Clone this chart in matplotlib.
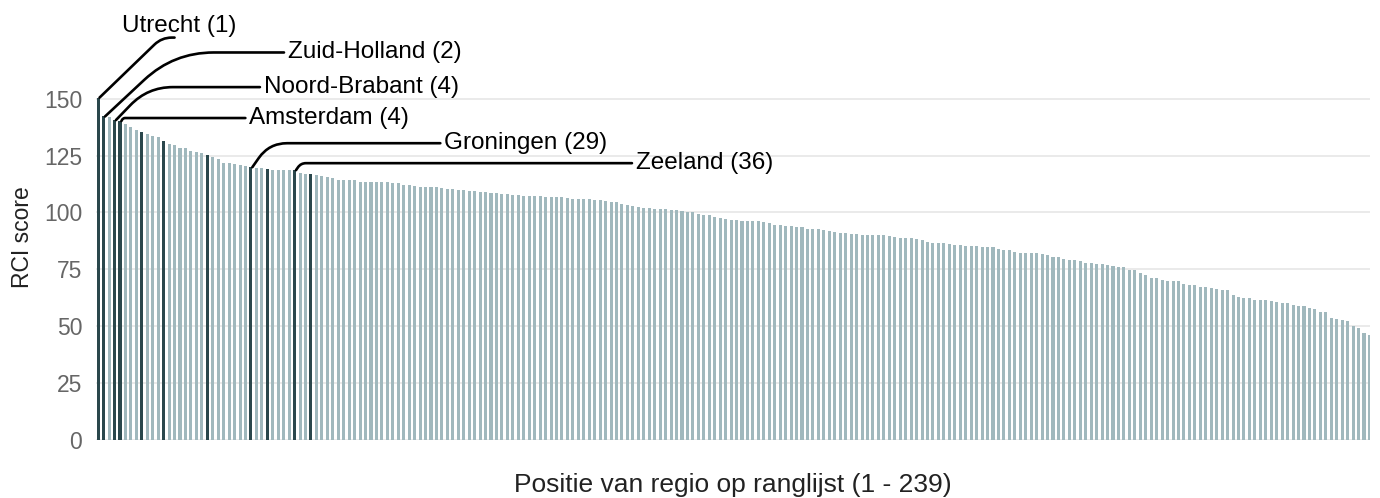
import matplotlib
matplotlib.use("Agg")
import matplotlib.pyplot as plt

# RCI score per region, sorted from rank 1 downwards
scores = [
    150.5, 142.2, 141.8, 140.6, 140.2, 138.8, 137.7, 136.3, 135.3, 134.4,
    133.7, 133.1, 131.4, 129.9, 129.6, 128.4, 128.3, 127.1, 126.7, 126.0,
    125.4, 124.6, 123.5, 121.8, 121.6, 121.3, 121.0, 120.4, 119.9, 119.5,
    119.4, 119.0, 118.7, 118.6, 118.6, 118.6, 118.6, 117.2, 116.9, 116.9,
    116.4, 116.0, 115.6, 115.0, 114.2, 114.2, 114.2, 114.2, 113.5, 113.4,
    113.4, 113.4, 113.4, 113.2, 112.8, 112.8, 112.0, 112.0, 111.6, 111.2,
    111.2, 111.2, 111.2, 110.6, 110.3, 110.3, 109.8, 109.8, 109.4, 109.4,
    109.0, 109.0, 108.5, 108.5, 108.1, 108.1, 107.6, 107.6, 107.2, 107.2,
    107.2, 107.2, 106.8, 106.8, 106.8, 106.8, 106.3, 105.9, 105.9, 105.9,
    105.9, 105.4, 105.4, 105.0, 104.6, 104.6, 103.7, 103.3, 102.8, 102.4,
    101.9, 101.9, 101.5, 101.5, 101.5, 101.1, 101.1, 100.6, 100.2, 100.2,
    99.3, 98.9, 98.9, 98.0, 97.5, 97.1, 96.7, 96.7, 96.2, 96.2,
    96.2, 96.2, 95.8, 95.3, 94.5, 94.5, 94.0, 94.0, 93.6, 93.6,
    92.7, 92.7, 92.7, 92.3, 91.8, 91.4, 90.9, 90.9, 90.5, 90.5,
    90.1, 90.1, 90.1, 90.1, 90.1, 89.6, 89.2, 88.8, 88.8, 88.8,
    88.3, 87.9, 87.0, 86.6, 86.6, 86.6, 86.1, 85.7, 85.7, 85.2,
    85.2, 85.2, 84.8, 84.8, 84.8, 83.9, 83.5, 83.5, 82.6, 82.2,
    82.2, 82.2, 82.2, 81.7, 81.3, 80.4, 80.4, 79.5, 79.1, 79.1,
    78.6, 77.8, 77.8, 77.3, 77.3, 76.9, 76.4, 76.0, 76.0, 74.7,
    74.7, 73.4, 72.5, 71.2, 71.2, 70.3, 69.9, 69.9, 69.9, 68.5,
    68.1, 68.1, 67.2, 67.2, 66.8, 66.3, 65.9, 65.9, 63.7, 62.8,
    62.4, 62.4, 61.5, 61.5, 61.5, 61.1, 60.6, 60.2, 60.2, 59.3,
    58.9, 58.9, 58.0, 57.6, 56.2, 56.2, 53.6, 53.2, 52.7, 52.3,
    50.1, 49.2, 47.0, 46.1,
]

# positions (0-based) of the Dutch regions in the ranking
nl_positions = [0, 1, 3, 4, 8, 12, 20, 28, 31, 36, 39]

label_names = ["Utrecht (1)", "Zuid-Holland (2)", "Noord-Brabant (4)",
               "Amsterdam (4)", "Groningen (29)", "Zeeland (36)"]
label_positions = [0, 1, 3, 4, 28, 36]

yticks = [0, 25, 50, 75, 100, 125, 150]

# leader layout: end of line (pixels from bar top), slope of first leg, corner radius
leader_layout = [
    (75, 60, 44, 10),
    (179, 64, 43, 40),
    (144, 33, 46, 25),
    (124, 3, 60, 2),
    (188, 24, 55, 18),
    (336, 7, 55, 5),
]

LIGHT = "#a0b8bd"
DARK = "#2a474c"

plt.rcParams["font.family"] = ["Liberation Sans", "DejaVu Sans"]

fig = plt.figure(figsize=(13.8, 4.98), dpi=100)
ax = fig.add_axes([96 / 1380, 58 / 498, 1274 / 1380, 430 / 498])

x = list(range(len(scores)))
colors = [DARK if i in nl_positions else LIGHT for i in x]
ax.bar(x, scores, width=0.56, color=colors, zorder=2)

ax.set_xlim(-0.4, 233.1)
ax.set_ylim(0, 189)
ax.set_yticks(yticks)
ax.set_xticks([])
ax.grid(axis="y", color="#e8e8e8", linewidth=1.3, zorder=0)
ax.set_axisbelow(True)
for s in ax.spines.values():
    s.set_visible(False)
ax.tick_params(axis="y", length=0, pad=10, labelsize=16.5, labelcolor="#666666")

ax.set_ylabel("RCI score", fontsize=16.5, color="#222222")
ax.yaxis.set_label_coords(-0.049, 0.472)
ax.set_xlabel("Positie van regio op ranglijst (1 - 239)", fontsize=19, color="#222222")
ax.xaxis.set_label_coords(0.5, -0.077)

for name, pos, (dx, dy, ang, rad) in zip(label_names, label_positions, leader_layout):
    xy = (pos + 0.25, scores[pos])
    ax.annotate("", xy=xy, xytext=(dx, dy), textcoords="offset pixels",
                arrowprops=dict(arrowstyle="-", color="black", lw=1.9,
                                shrinkA=0, shrinkB=0, patchA=None,
                                connectionstyle=f"angle,angleA=0,angleB={ang},rad={rad}"))
    if pos == 0:
        ax.annotate(name, xy=xy, xytext=(dx + 5, dy + 1), textcoords="offset pixels",
                    ha="center", va="bottom", fontsize=17.5, annotation_clip=False)
    else:
        ax.annotate(name, xy=xy, xytext=(dx + 4, dy), textcoords="offset pixels",
                    ha="left", va="center", fontsize=17.5, annotation_clip=False)

fig.savefig("out.png", dpi=100)
